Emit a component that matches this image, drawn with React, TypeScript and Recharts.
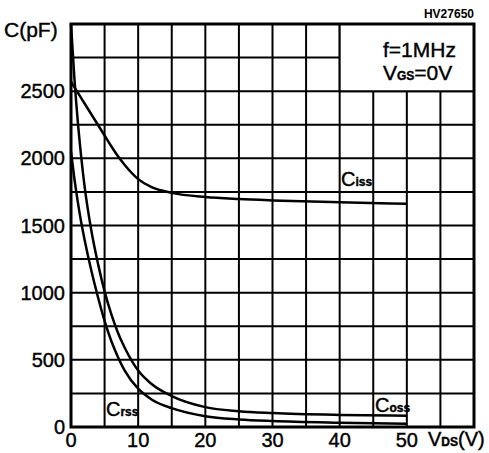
import { LineChart, Line, XAxis, YAxis, CartesianGrid, ReferenceArea } from "recharts";

const vds = [0, 0.5, 1, 1.5, 2, 3, 4, 5, 6, 7, 8, 10, 12, 15, 20, 25, 30, 40, 50];
const ciss = [2570, 2530, 2490, 2450, 2410, 2330, 2250, 2170, 2090, 2015, 1950, 1845, 1785, 1743, 1712, 1697, 1687, 1673, 1662];
const coss = [3000, 2600, 2280, 2020, 1800, 1470, 1220, 1010, 840, 700, 590, 420, 320, 230, 148, 118, 104, 90, 84];
const crss = [2050, 1850, 1680, 1530, 1400, 1170, 970, 790, 640, 520, 420, 285, 205, 140, 80, 56, 44, 32, 25];

const xTicks = [0, 5, 10, 15, 20, 25, 30, 35, 40, 45, 50, 55, 60];
const yTicks = [0, 250, 500, 750, 1000, 1250, 1500, 1750, 2000, 2250, 2500, 2750, 3000];

const data = vds.map((v, i) => ({ vds: v, ciss: ciss[i], coss: coss[i], crss: crss[i] }));

const font = "'Liberation Sans', Arial, sans-serif";
const tickStyle = { fill: "#000", fontSize: 20, fontFamily: font, stroke: "#000", strokeWidth: 0.4 };

export default function App() {
  return (
    <div style={{ position: "absolute", left: 0, top: 0, width: 489, height: 453, background: "#fff" }}>
      <LineChart width={489} height={453} data={data} margin={{ top: 24, right: 15, bottom: 0, left: 0 }}>
        <CartesianGrid stroke="#000" strokeWidth={2} />
        <XAxis
          dataKey="vds"
          type="number"
          domain={[0, 60]}
          ticks={xTicks}
          tickFormatter={(v: number) => (v % 10 === 0 && v <= 50 ? String(v) : "")}
          tick={tickStyle}
          tickLine={false}
          axisLine={false}
          tickSize={0}
          tickMargin={6}
          height={26}
        />
        <YAxis
          type="number"
          domain={[0, 3000]}
          ticks={yTicks}
          tickFormatter={(v: number) => (v % 500 === 0 && v <= 2500 ? String(v) : "")}
          tick={tickStyle}
          tickLine={false}
          axisLine={false}
          tickSize={0}
          tickMargin={6}
          width={71}
        />
        <ReferenceArea x1={40} x2={60} y1={2500} y2={3000} fill="#fff" fillOpacity={1} stroke="#000" strokeWidth={2} />
        <ReferenceArea x1={0} x2={60} y1={0} y2={3000} fill="none" stroke="#000" strokeWidth={3} />
        <Line dataKey="ciss" type="monotone" stroke="#000" strokeWidth={2.5} dot={false} isAnimationActive={false} />
        <Line dataKey="coss" type="monotone" stroke="#000" strokeWidth={2.5} dot={false} isAnimationActive={false} />
        <Line dataKey="crss" type="monotone" stroke="#000" strokeWidth={2.5} dot={false} isAnimationActive={false} />
      </LineChart>
      <svg
        width={489}
        height={453}
        style={{ position: "absolute", left: 0, top: 0, pointerEvents: "none" }}
        fontFamily={font}
        stroke="#000"
        strokeWidth={0.4}
      >
        <text x={474} y={18} textAnchor="end" fontSize={12} fontWeight="bold" strokeWidth={0}>HV27650</text>
        <text x={4} y={37} fontSize={21}>C(pF)</text>
        <text x={383} y={57} fontSize={21}>f=1MHz</text>
        <text x={383} y={80} fontSize={21}>V<tspan fontSize={12} fontWeight="bold">GS</tspan>=0V</text>
        <text x={341} y={186} fontSize={20}>C<tspan fontSize={12} fontWeight="bold">iss</tspan></text>
        <text x={106} y={416} fontSize={20}>C<tspan fontSize={12} fontWeight="bold">rss</tspan></text>
        <text x={375} y={412} fontSize={20}>C<tspan fontSize={12} fontWeight="bold">oss</tspan></text>
        <text x={428} y={446} fontSize={20}>V<tspan fontSize={12} fontWeight="bold">DS</tspan>(V)</text>
      </svg>
    </div>
  );
}
